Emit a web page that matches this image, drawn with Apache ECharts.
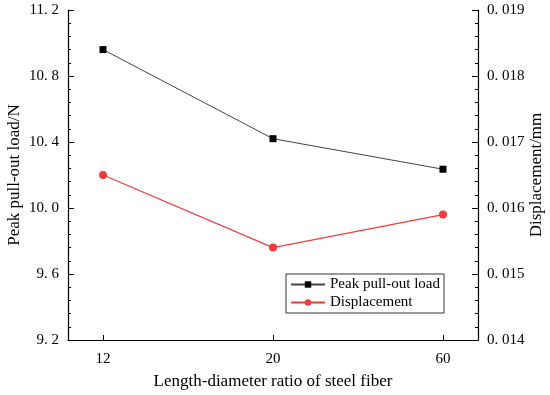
<!DOCTYPE html>
<html><head><meta charset="utf-8">
<script src="https://cdn.jsdelivr.net/npm/echarts@6/dist/echarts.min.js"></script>
<style>html,body{margin:0;padding:0;background:#fff}#c{width:550px;height:395px}</style>
</head><body><div id="c"></div>
<script>
var categories = ['12', '20', '60'];
var peakLoad = [10.96, 10.42, 10.235];
var displacement = [0.0165, 0.0154, 0.0159];
var leftTicks = [9.2, 9.6, 10.0, 10.4, 10.8, 11.2];
var rightTicks = [0.014, 0.015, 0.016, 0.017, 0.018, 0.019];

var F = '"Liberation Serif", "DejaVu Serif", serif';
var chart = echarts.init(document.getElementById('c'));
function pts(arr){ return arr.map(function(v,i){ return [i, v]; }); }
chart.setOption({
  animation: false,
  backgroundColor: '#fff',
  grid: { left: 68, right: 72, top: 10, bottom: 55, containLabel: false, outerBoundsMode: 'none' },
  xAxis: {
    type: 'value', min: -0.206, max: 2.206,
    name: 'Length-diameter ratio of steel fiber', nameLocation: 'middle', nameGap: 33, nameMoveOverlap: false,
    nameTextStyle: { fontFamily: F, fontSize: 17, color: '#000' },
    axisLine: { show: true, onZero: false, lineStyle: { color: '#000', width: 1.2 } },
    axisTick: { show: true, inside: true, length: 5, customValues: [0,1,2], lineStyle: { color: '#000' } },
    axisLabel: { customValues: [0,1,2], margin: 12, fontFamily: F, fontSize: 15, color: '#000',
      formatter: function(v){ return categories[Math.round(v)]; } },
    splitLine: { show: false }
  },
  yAxis: [{
    type: 'value', min: 9.2, max: 11.2, interval: 0.4, position: 'left',
    name: 'Peak pull-out load/N', nameLocation: 'middle', nameGap: 45, nameMoveOverlap: false,
    nameTextStyle: { fontFamily: F, fontSize: 17, color: '#000' },
    axisLine: { show: true, onZero: false, lineStyle: { color: '#000', width: 1.2 } },
    axisTick: { show: true, inside: true, length: 6, lineStyle: { color: '#000' } },
    minorTick: { show: true, splitNumber: 5, length: 3, lineStyle: { color: '#000' } },
    axisLabel: { margin: 9, fontFamily: F, fontSize: 15, color: '#000',
      formatter: function(v){ return v.toFixed(1).replace('.', '. '); } },
    splitLine: { show: false }
  }, {
    type: 'value', min: 0.014, max: 0.019, interval: 0.001, position: 'right',
    name: 'Displacement/mm', nameLocation: 'middle', nameGap: 50, nameMoveOverlap: false,
    nameTextStyle: { fontFamily: F, fontSize: 17, color: '#000' },
    axisLine: { show: true, onZero: false, lineStyle: { color: '#000', width: 1.2 } },
    axisTick: { show: true, inside: true, length: 6, lineStyle: { color: '#000' } },
    minorTick: { show: true, splitNumber: 5, length: 3, lineStyle: { color: '#000' } },
    axisLabel: { margin: 9, fontFamily: F, fontSize: 15, color: '#000',
      formatter: function(v){ return v.toFixed(3).replace('.', '. '); } },
    splitLine: { show: false }
  }],
  legend: {
    right: 106, top: 274, orient: 'vertical', itemGap: 3,
    itemWidth: 34, itemHeight: 8,
    padding: [3, 4, 3, 4],
    borderColor: '#333', borderWidth: 1, backgroundColor: '#fff',
    textStyle: { fontFamily: F, fontSize: 15, color: '#000' },
    data: ['Peak pull-out load', 'Displacement']
  },
  series: [{
    name: 'Peak pull-out load', type: 'line', yAxisIndex: 0,
    data: pts(peakLoad), symbol: 'rect', symbolSize: 7,
    itemStyle: { color: '#000' }, lineStyle: { color: '#444', width: 1 }
  }, {
    name: 'Displacement', type: 'line', yAxisIndex: 1,
    data: pts(displacement), symbol: 'circle', symbolSize: 8,
    itemStyle: { color: '#f03c3c' }, lineStyle: { color: '#f03c3c', width: 1.2 }
  }]
});
</script></body></html>
